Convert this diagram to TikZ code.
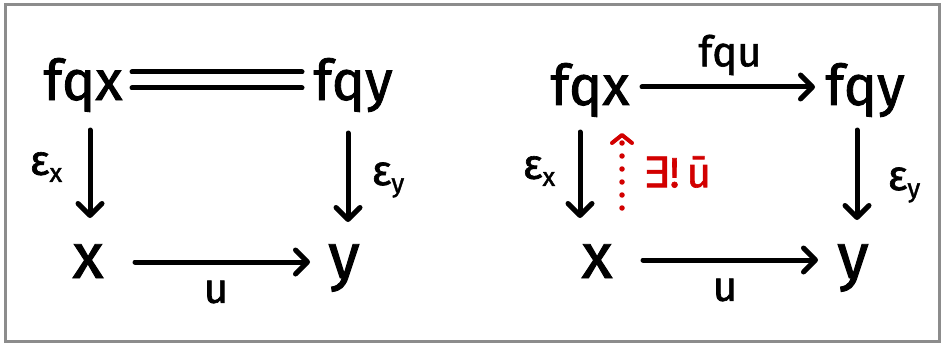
\documentclass[tikz,border=0pt]{standalone}
\usepackage{fontspec}
\setmainfont[FakeBold=1.5]{Fira Sans}
\newfontfamily\symfont[FakeBold=1.5]{DejaVu Sans}
\usetikzlibrary{arrows.meta}
\definecolor{framegray}{RGB}{140,140,140}
\definecolor{ured}{RGB}{210,0,0}
\tikzset{
 obj/.style={anchor=base, inner sep=0pt, font=\fontsize{56}{60}\selectfont},
 bigobj/.style={anchor=base, inner sep=0pt, font=\fontsize{64}{70}\selectfont},
 lbl/.style={inner sep=0pt, font=\fontsize{42}{46}\selectfont},
 arr/.style={line width=5pt, line cap=round, -{Straight Barb[round,length=12pt,width=24pt]}},
 dotarr/.style={ured, line width=5.5pt, line cap=round, dash pattern=on 0pt off 13pt, -{Straight Barb[round,length=8pt,width=20pt,line width=4pt]}},
 rule/.style={line width=5pt, line cap=round},
}
\newcommand{\eps}[1]{ε\raisebox{-7pt}{\fontsize{26}{28}\selectfont #1}}
\begin{document}
\begin{tikzpicture}[x=1pt,y=-1pt]
\useasboundingbox (0,0) rectangle (943,345);
\draw[framegray, line width=3pt] (5,5) rectangle (939,341);
% left diagram
\node[obj] (fqxL) at (83,100) {fqx};
\node[obj] (fqyL) at (353,100) {fqy};
\node[bigobj] (xL) at (88,278) {x};
\node[bigobj] (yL) at (344,278) {y};
\draw[rule] ([shift={(49,-28)}]fqxL.base) -- ([shift={(-51,-28)}]fqyL.base);
\draw[rule] ([shift={(49,-12)}]fqxL.base) -- ([shift={(-51,-12)}]fqyL.base);
\draw[arr] ([shift={(7,30)}]fqxL.base) -- ([shift={(2,-60)}]xL.base);
\draw[arr] ([shift={(-5,33)}]fqyL.base) -- ([shift={(4,-56)}]yL.base);
\draw[arr] ([shift={(47,-16)}]xL.base) -- ([shift={(-34,-16)}]yL.base);
\node[lbl] (exL) at (46,167) {\eps{x}};
\node[lbl] (eyL) at (388,180) {\eps{y}};
\node[lbl] (uL) at (216,292) {u};
% right diagram
\node[obj] (fqxR) at (590,105) {fqx};
\node[obj] (fqyR) at (865,105) {fqy};
\node[bigobj] (xR) at (597,278) {x};
\node[bigobj] (yR) at (853,278) {y};
\draw[arr] ([shift={(52,-18)}]fqxR.base) -- ([shift={(-50,-18)}]fqyR.base);
\draw[arr] ([shift={(-10,27)}]fqxR.base) -- ([shift={(-17,-60)}]xR.base);
\draw[arr] ([shift={(-8,25)}]fqyR.base) -- ([shift={(4,-58)}]yR.base);
\draw[arr] ([shift={(46,-18)}]xR.base) -- ([shift={(-35,-18)}]yR.base);
\draw[dotarr] ([shift={(25,-70)}]xR.base) -- ([shift={(32,28)}]fqxR.base);
\node[lbl] (fquR) at (730,55) {fqu};
\node[lbl] (exR) at (539,171) {\eps{x}};
\node[lbl] (eyR) at (904,185) {\eps{y}};
\node[lbl] (uR) at (725,290) {u};
\node[lbl, text=ured] (exu) at (677,172) {{\symfont ∃}!\,ū};
\end{tikzpicture}
\end{document}
